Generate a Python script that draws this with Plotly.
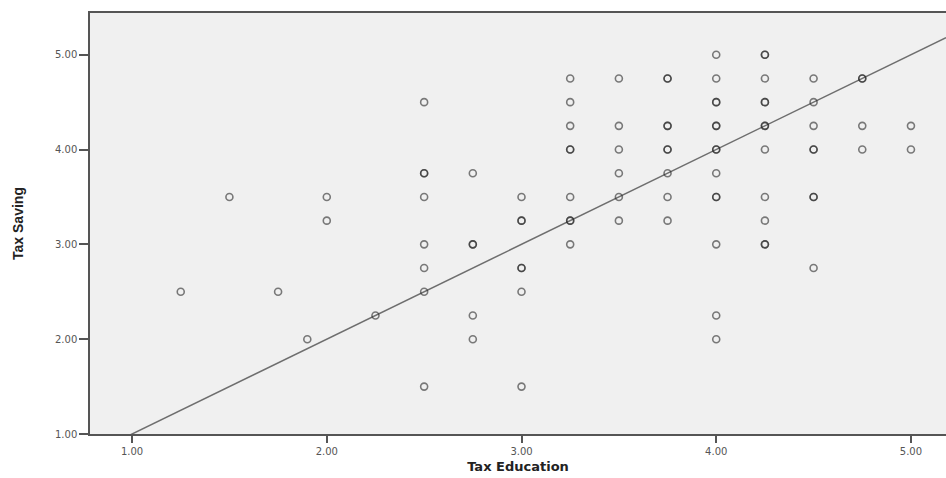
import plotly.graph_objects as go

# Tax Education (x) and Tax Saving (y) observations; repeated points overlap and appear darker
tax_education = [
    1.25, 1.5, 1.75, 1.9, 2.0, 2.0, 2.25,
    2.5, 2.5, 2.5, 2.5, 2.5, 2.5, 2.5, 2.5,
    2.75, 2.75, 2.75, 2.75, 2.75,
    3.0, 3.0, 3.0, 3.0, 3.0, 3.0, 3.0,
    3.25, 3.25, 3.25, 3.25, 3.25, 3.25, 3.25, 3.25, 3.25,
    3.5, 3.5, 3.5, 3.5, 3.5, 3.5,
    3.75, 3.75, 3.75, 3.75, 3.75, 3.75, 3.75, 3.75, 3.75,
    4.0, 4.0, 4.0, 4.0, 4.0, 4.0, 4.0, 4.0, 4.0, 4.0, 4.0, 4.0, 4.0, 4.0,
    4.25, 4.25, 4.25, 4.25, 4.25, 4.25, 4.25, 4.25, 4.25, 4.25, 4.25, 4.25,
    4.5, 4.5, 4.5, 4.5, 4.5, 4.5, 4.5, 4.5,
    4.75, 4.75, 4.75, 4.75,
    5.0, 5.0,
]
tax_saving = [
    2.5, 3.5, 2.5, 2.0, 3.5, 3.25, 2.25,
    4.5, 3.75, 3.75, 3.5, 3.0, 2.75, 2.5, 1.5,
    3.75, 3.0, 3.0, 2.25, 2.0,
    3.5, 3.25, 3.25, 2.75, 2.75, 2.5, 1.5,
    4.75, 4.5, 4.25, 4.0, 4.0, 3.5, 3.25, 3.25, 3.0,
    4.75, 4.25, 4.0, 3.75, 3.5, 3.25,
    4.75, 4.75, 4.25, 4.25, 4.0, 4.0, 3.75, 3.5, 3.25,
    5.0, 4.75, 4.5, 4.5, 4.25, 4.25, 4.0, 4.0, 3.75, 3.5, 3.5, 3.0, 2.25, 2.0,
    5.0, 5.0, 4.75, 4.5, 4.5, 4.25, 4.25, 4.0, 3.5, 3.25, 3.0, 3.0,
    4.75, 4.5, 4.25, 4.0, 4.0, 3.5, 3.5, 2.75,
    4.75, 4.75, 4.25, 4.0,
    4.25, 4.0,
]

# Fit line coefficients (Tax Saving = intercept + slope * Tax Education)
fit_intercept = 0.0
fit_slope = 1.0
fit_x = [0.78, 5.18]

x_ticks = [1.0, 2.0, 3.0, 4.0, 5.0]
x_tick_labels = ["1.00", "2.00", "3.00", "4.00", "5.00"]
y_ticks = [1.0, 2.0, 3.0, 4.0, 5.0]
y_tick_labels = ["1.00", "2.00", "3.00", "4.00", "5.00"]

fit_y = [fit_intercept + fit_slope * v for v in fit_x]

fig = go.Figure()
fig.add_trace(go.Scatter(
    x=fit_x, y=fit_y, mode="lines",
    line=dict(color="#6e6e6e", width=1.5),
    hoverinfo="skip", showlegend=False,
))
fig.add_trace(go.Scatter(
    x=tax_education, y=tax_saving, mode="markers",
    marker=dict(symbol="circle-open", size=7, color="rgba(40,40,40,0.6)",
                line=dict(width=1.6)),
    showlegend=False,
))

fig.update_layout(
    width=946, height=478,
    margin=dict(l=90, r=0, t=13, b=44),
    paper_bgcolor="white",
    plot_bgcolor="#f0f0f0",
    font=dict(family="DejaVu Sans, Verdana, sans-serif", size=10, color="#444"),
    xaxis=dict(
        range=[0.784, 5.18],
        tickvals=x_ticks, ticktext=x_tick_labels,
        showgrid=False, zeroline=False,
        showline=True, linecolor="#555", linewidth=1.5, mirror=True,
        ticks="outside", ticklen=7, tickcolor="#555", tickwidth=1.5,
        tickfont=dict(size=10, color="#555"),
        title=dict(text="<b>Tax Education</b>", standoff=6,
                   font=dict(family="DejaVu Sans, Verdana, sans-serif", size=13, color="#222")),
    ),
    yaxis=dict(
        range=[1.0, 5.44],
        tickvals=y_ticks, ticktext=y_tick_labels,
        showgrid=False, zeroline=False,
        showline=True, linecolor="#555", linewidth=1.5,
        ticks="outside", ticklen=9, tickcolor="#555", tickwidth=1.5,
        tickfont=dict(size=10, color="#555"),
        title=dict(text="<b>Tax Saving</b>", standoff=28,
                   font=dict(family="Liberation Sans Narrow, Liberation Sans, Arial Narrow, sans-serif",
                             size=14, color="#222")),
    ),
)

fig.write_html("out.html", config={"displayModeBar": False},
               post_script="document.body.style.margin='0px';")
